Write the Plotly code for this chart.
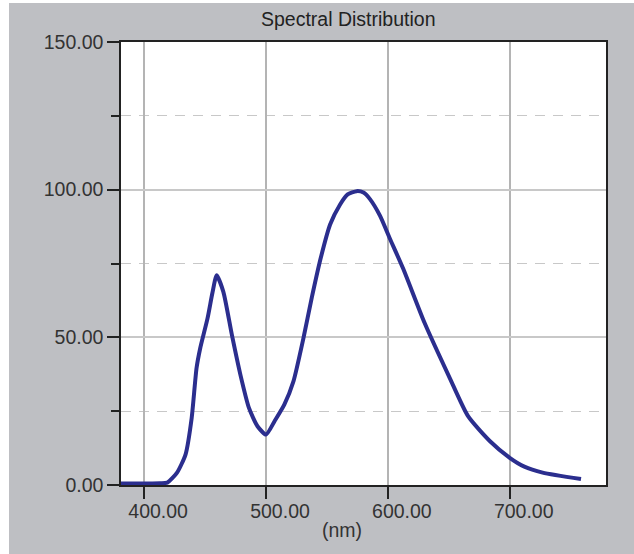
import plotly.graph_objects as go

wavelength = [380, 413, 419, 427, 434, 439, 443, 446, 452, 456, 459.5, 465, 472, 479, 486,
              493, 500, 507, 515, 522.5, 530.7, 537.6, 545, 552.6, 560.8, 567, 574.4, 580,
              585.3, 593.5, 601.7, 612.6, 630, 650.8, 665.8, 683.6, 700, 712, 727, 758.5]
intensity = [0.5, 0.6, 0.8, 4.2, 10.4, 22.7, 39.6, 46.3, 56.4, 65, 71.0, 65.4, 50.8, 37.3, 26.1,
             19.9, 17.1, 21.6, 27.2, 35.1, 49.7, 63.5, 77, 88.2, 95, 98.4, 99.5, 99,
             96.8, 91.2, 83.4, 73.2, 55, 36.2, 23.3, 14.9, 9.2, 6.2, 4.2, 2.0]

x_ticks = [400, 500, 600, 700]
y_ticks = [0, 50, 100, 150]
title_text = "Spectral Distribution"
x_title = "(nm)"

# page offset of the figure (body margin) and figure size
OX, OY = 9, 3
W, H = 634 - OX, 554 - OY
# plot area in window pixels
PL, PR, PT, PB = 121, 606, 42, 485
L, R, T, B = PL - OX, (OX + W) - PR, PT - OY, (OY + H) - PB
pw, ph = PR - PL, PB - PT

def px_x(p):
    return (p - PL) / pw

def px_y(p):
    return (PB - p) / ph

FONT = "Liberation Sans, Arial, sans-serif"
GRAY = "#bebfc3"

fig = go.Figure()
fig.add_trace(go.Scatter(x=wavelength, y=intensity, mode="lines",
                         line=dict(color="#2b2e8e", width=4, shape="spline", smoothing=0.6),
                         hoverinfo="skip", showlegend=False))

axis_common = dict(showline=True, linecolor="#222222", linewidth=1.5, mirror=True,
                   ticks="outside", ticklen=12, tickwidth=1.5, tickcolor="#222222",
                   tickfont=dict(family=FONT, size=19.5, color="#333333"),
                   tickformat=".2f", zeroline=False)

fig.update_xaxes(range=[381, 779], tickvals=x_ticks, showgrid=True,
                 gridcolor="#b4b4b4", gridwidth=1.5, ticklabelshift=14,
                 ticklabelstandoff=-4, **axis_common)
fig.update_yaxes(range=[0, 150], tickvals=y_ticks, showgrid=True,
                 gridcolor="#c8c8c8", gridwidth=1.5,
                 minor=dict(tick0=0, dtick=25, ticks="outside", ticklen=8,
                            tickwidth=1.5, tickcolor="#222222", showgrid=True,
                            gridcolor="#c8c8c8", gridwidth=1.2, griddash="10px,8px"),
                 **axis_common)

fig.add_annotation(text=title_text, xref="paper", yref="paper",
                   x=px_x(348), y=px_y(19), xanchor="center", yanchor="middle",
                   showarrow=False, font=dict(family=FONT, size=19.5, color="#222222"))
fig.add_annotation(text=x_title, xref="paper", yref="paper",
                   x=px_x(342), y=px_y(530), xanchor="center", yanchor="middle",
                   showarrow=False, font=dict(family=FONT, size=19.5, color="#333333"))

fig.update_layout(width=W, height=H, margin=dict(l=L, r=R, t=T, b=B),
                  paper_bgcolor=GRAY, plot_bgcolor="white", showlegend=False)

fig.write_html("out.html",
               post_script="document.body.style.margin='%dpx 0 0 %dpx';" % (OY, OX))
